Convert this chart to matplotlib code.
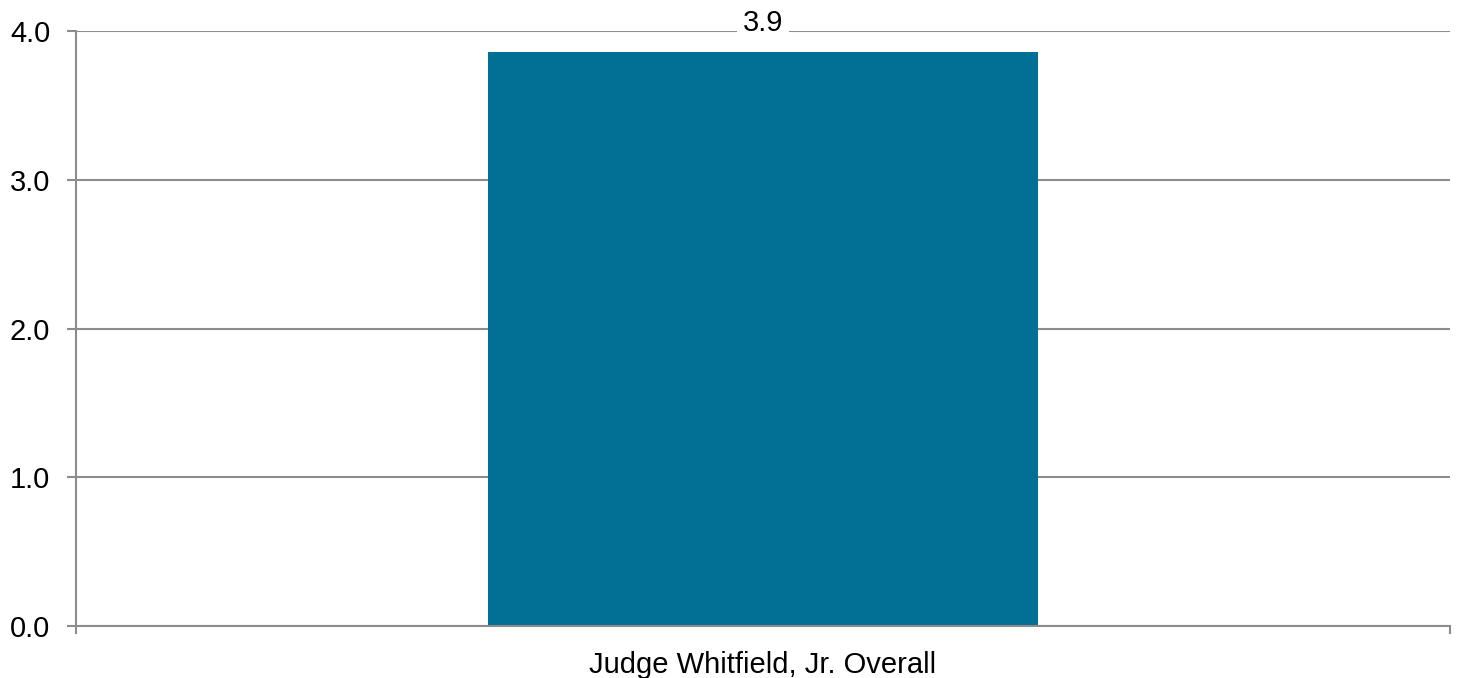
import matplotlib.pyplot as plt

plt.rcParams['font.family'] = ['Liberation Sans', 'DejaVu Sans']

categories = ['Judge Whitfield, Jr. Overall']
values = [3.86]
yticks = [0.0, 1.0, 2.0, 3.0, 4.0]

fig = plt.figure(figsize=(14.59, 6.78), dpi=100)
ax = fig.add_axes([76 / 1459, 1 - 626 / 678, 1374 / 1459, 595 / 678])

grey = '#8c8c8c'
ax.bar(range(len(categories)), values, width=0.401, color='#026f95', zorder=2)

for i, v in enumerate(values):
    ax.annotate(f'{v:.1f}', (i, v), xytext=(0, 29), textcoords='offset pixels',
                ha='center', va='center', fontsize=21, zorder=3,
                bbox=dict(boxstyle='square,pad=0.2', fc='white', ec='none'))

ax.set_xlim(-0.5, len(categories) - 0.5)
ax.set_ylim(0, 4)
ax.set_yticks(yticks)
ax.set_yticklabels([f'{t:.1f}' for t in yticks], fontsize=21)
ax.set_xticks([-0.5, 0.5], minor=False)
ax.set_xticklabels(['', ''])
ax.set_xticks([0], minor=True)
ax.set_xticklabels(categories, minor=True, fontsize=21)
ax.tick_params(axis='x', which='minor', length=0, pad=18)
ax.tick_params(axis='x', which='major', length=6, width=1.5, color=grey)
ax.tick_params(axis='y', length=6.5, width=1.5, color=grey, pad=12)

ax.grid(axis='y', color=grey, linewidth=1.5, zorder=1)
for s in ['top', 'right']:
    ax.spines[s].set_visible(False)
for s in ['left', 'bottom']:
    ax.spines[s].set_color(grey)
    ax.spines[s].set_linewidth(1.5)

fig.savefig('out.png', dpi=100)
